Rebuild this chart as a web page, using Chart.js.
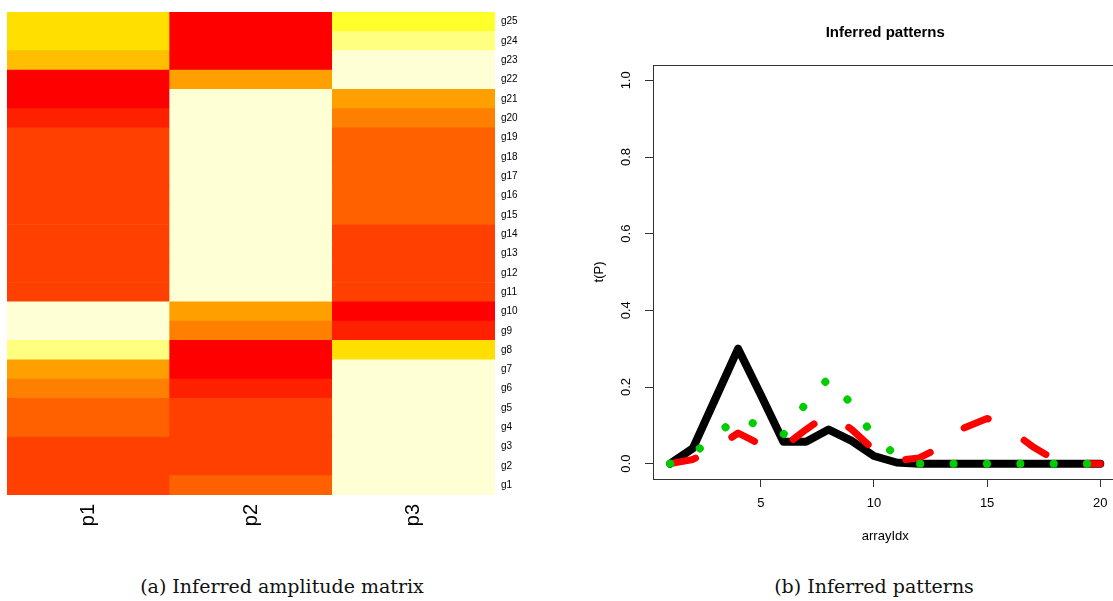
<!DOCTYPE html>
<html>
<head>
<meta charset="utf-8">
<script src="https://cdn.jsdelivr.net/npm/chart.js@4.4.1/dist/chart.umd.min.js"></script>
<style>
  html, body { margin: 0; padding: 0; background: #fff; }
  body { position: relative; width: 1113px; height: 601px; overflow: hidden; }
  #heatCanvas { position: absolute; left: 0; top: 0; }
  #lineCanvas { position: absolute; left: 581px; top: 0; }
  .caption {
    position: absolute; top: 575px; line-height: 22px;
    font-family: 'DejaVu Serif', serif; font-size: 19px; color: #111;
    white-space: nowrap; transform: translateX(-50%);
  }
</style>
</head>
<body>
<canvas id="heatCanvas" width="555" height="545"></canvas>
<canvas id="lineCanvas" width="540" height="560"></canvas>
<div class="caption" style="left:282px">(a) Inferred amplitude matrix</div>
<div class="caption" style="left:874px">(b) Inferred patterns</div>

<script>
// ***** DATA *****

// rows of the amplitude matrix, bottom to top
const geneNames = ['g1', 'g2', 'g3', 'g4', 'g5', 'g6', 'g7', 'g8', 'g9', 'g10',
  'g11', 'g12', 'g13', 'g14', 'g15', 'g16', 'g17', 'g18', 'g19', 'g20',
  'g21', 'g22', 'g23', 'g24', 'g25'];
const patternNames = ['p1', 'p2', 'p3'];

// R heat.colors(12): level 0 = red ... level 11 = pale
const heatColors = ['#FF0000', '#FF2000', '#FF4000', '#FF6000', '#FF8000', '#FF9F00',
  '#FFBF00', '#FFDF00', '#FFFF00', '#FFFF2A', '#FFFF80', '#FFFFD5'];

// colour level of each cell, g1..g25
const p1Levels = [2, 2, 2, 3, 3, 4, 5, 10, 11, 11, 2, 2, 2, 2, 2, 2, 2, 2, 2, 1, 0, 0, 6, 7, 7];
const p2Levels = [3, 2, 2, 2, 2, 1, 0, 0, 4, 5, 11, 11, 11, 11, 11, 11, 11, 11, 11, 11, 11, 5, 0, 0, 0];
const p3Levels = [11, 11, 11, 11, 11, 11, 11, 7, 1, 0, 2, 2, 2, 2, 3, 3, 3, 3, 3, 4, 5, 11, 11, 10, 9];

// inferred patterns
const arrayIdx = [1, 2, 3, 4, 5, 6, 7, 8, 9, 10, 11, 12, 13, 14, 15, 16, 17, 18, 19, 20];
const blackPattern = [0, 0.04, 0.17, 0.30, 0.18, 0.057, 0.057, 0.089, 0.06, 0.02,
  0.003, 0, 0, 0, 0, 0, 0, 0, 0, 0];
const redPattern = [0, 0.011, 0.04, 0.08, 0.05, 0.044, 0.089, 0.13, 0.09, 0.036,
  0.008, 0.015, 0.045, 0.094, 0.118, 0.089, 0.045, 0.01, 0, 0];
const greenPattern = [0, 0.026, 0.071, 0.125, 0.095, 0.076, 0.158, 0.223, 0.156, 0.07,
  0.021, 0, 0, 0, 0, 0, 0, 0, 0, 0];

const xTicks = [5, 10, 15, 20];
const yTicks = [0, 0.2, 0.4, 0.6, 0.8, 1.0];


// ***** DEFAULTS *****
Chart.defaults.font.family = "'Liberation Sans', Arial, sans-serif";
Chart.defaults.color = '#000';


// ***** HEATMAP (stacked bars, one dataset per gene row) *****
let heatDatasets = [];
for (let i = 0; i < geneNames.length; i++){
  heatDatasets.push({
    label: geneNames[i],
    data: [1, 1, 1],
    backgroundColor: [heatColors[p1Levels[i]], heatColors[p2Levels[i]], heatColors[p3Levels[i]]],
    borderWidth: 0,
    barPercentage: 1,
    categoryPercentage: 1
  });
}

new Chart(document.getElementById('heatCanvas'), {
  type: 'bar',
  data: { labels: patternNames, datasets: heatDatasets },
  options: {
    responsive: false,
    animation: false,
    devicePixelRatio: 1,
    layout: { padding: { left: 7, top: 6, right: 0, bottom: 0 } },
    plugins: { legend: { display: false }, tooltip: { enabled: false } },
    scales: {
      x: {
        stacked: true,
        afterFit: function(scale){ scale.height = 50; },
        grid: { display: false, drawTicks: false },
        border: { display: false },
        ticks: { font: { size: 20 }, minRotation: 90, maxRotation: 90, padding: 9 }
      },
      y: {
        stacked: true,
        position: 'right',
        min: 0,
        max: 25,
        afterFit: function(scale){ scale.width = 60; },
        afterBuildTicks: function(scale){
          scale.ticks = geneNames.map((g, i) => ({ value: i + 0.5 }));
        },
        grid: { display: false, drawTicks: false },
        border: { display: false },
        ticks: {
          autoSkip: false,
          font: { size: 10 },
          padding: 6,
          callback: function(value, index){ return geneNames[index]; }
        }
      }
    }
  }
});


// ***** PATTERN LINES *****

// R style box round the plot region
const boxPlugin = {
  id: 'box',
  afterLayout(chart){
    // R centres the main title over the plot region, not the whole device
    if (chart.titleBlock){
      chart.titleBlock.left = chart.chartArea.left;
      chart.titleBlock.right = chart.chartArea.right;
    }
  },
  afterDraw(chart){
    const a = chart.chartArea;
    const c = chart.ctx;
    c.save();
    c.strokeStyle = '#333';
    c.lineWidth = 1;
    c.strokeRect(Math.round(a.left) + 0.5, Math.round(a.top) + 0.5,
      Math.round(a.right - a.left), Math.round(a.bottom - a.top));
    c.restore();
  }
};

function toPoints(values){
  return arrayIdx.map((x, i) => ({ x: x, y: values[i] }));
}

// the plot box runs past the right edge of the window, like the reference
new Chart(document.getElementById('lineCanvas'), {
  type: 'line',
  data: {
    datasets: [
      {
        label: 'p1',
        data: toPoints(blackPattern),
        borderColor: '#000000',
        borderWidth: 8,
        borderJoinStyle: 'round',
        borderCapStyle: 'round',
        pointRadius: 0,
        order: 3
      },
      {
        label: 'p2',
        data: toPoints(redPattern),
        borderColor: '#FF0000',
        borderWidth: 7,
        borderDash: [26, 42],
        borderJoinStyle: 'round',
        borderCapStyle: 'round',
        pointRadius: 0,
        order: 2
      },
      {
        label: 'p3',
        data: toPoints(greenPattern),
        borderColor: '#00CD00',
        borderWidth: 8,
        borderDash: [0.1, 33.3],
        borderJoinStyle: 'round',
        borderCapStyle: 'round',
        pointRadius: 0,
        order: 1
      }
    ]
  },
  plugins: [boxPlugin],
  options: {
    responsive: false,
    animation: false,
    devicePixelRatio: 1,
    layout: { padding: { left: 0, top: 0, right: 3.5, bottom: 0 } },
    plugins: {
      legend: { display: false },
      tooltip: { enabled: false },
      title: {
        display: true,
        text: 'Inferred patterns',
        font: { size: 15, weight: 'bold' },
        color: '#000',
        padding: { top: 24, bottom: 23 }
      }
    },
    scales: {
      x: {
        type: 'linear',
        min: 0.24,
        max: 20.76,
        afterFit: function(scale){ scale.height = 81; },
        afterBuildTicks: function(scale){
          scale.ticks = xTicks.map(v => ({ value: v }));
        },
        grid: { drawOnChartArea: false, drawTicks: true, tickLength: 8, color: '#333' },
        border: { display: true, color: '#333' },
        ticks: { font: { size: 13 }, padding: 8.5, maxRotation: 0 },
        title: {
          display: true,
          text: 'arrayIdx',
          font: { size: 13 },
          padding: { top: 0, bottom: 16 }
        }
      },
      y: {
        type: 'linear',
        min: -0.04,
        max: 1.04,
        afterFit: function(scale){ scale.width = 72; },
        afterBuildTicks: function(scale){
          scale.ticks = yTicks.map(v => ({ value: v }));
        },
        grid: { drawOnChartArea: false, drawTicks: true, tickLength: 8, color: '#333' },
        border: { display: true, color: '#333' },
        ticks: {
          font: { size: 13 },
          minRotation: 90,
          maxRotation: 90,
          crossAlign: 'center',
          padding: 9.5,
          callback: function(value){ return value.toFixed(1); }
        },
        title: {
          display: true,
          text: 't(P)',
          font: { size: 13 },
          padding: { top: 10.5, bottom: 0 }
        }
      }
    }
  }
});
</script>
</body>
</html>
